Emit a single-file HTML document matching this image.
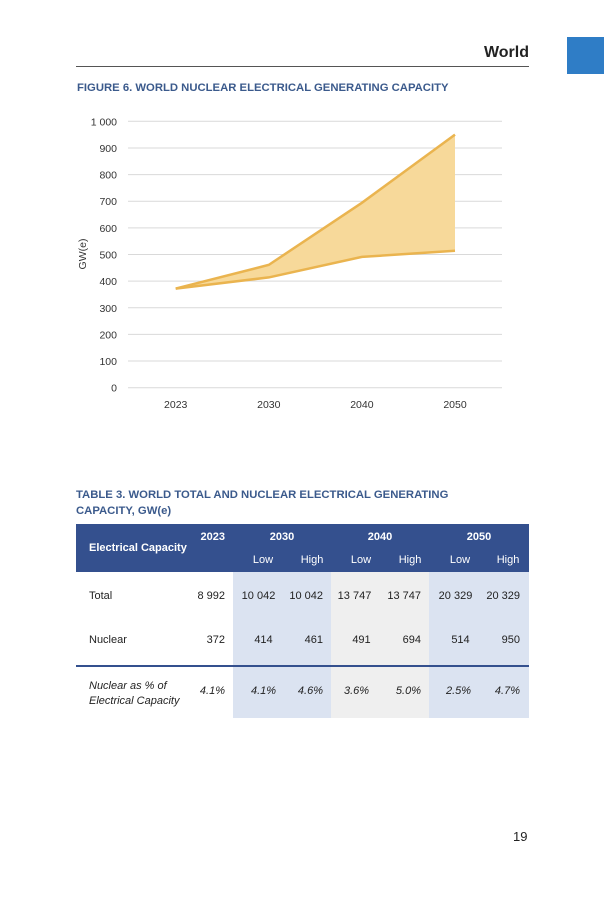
<!DOCTYPE html>
<html><head><meta charset="utf-8"><style>
body{margin:0;width:604px;height:906px;background:#fff;position:relative;font-family:"Liberation Sans",sans-serif;overflow:hidden}
.a{position:absolute}
.t{position:absolute;font-size:11px;color:#222}
.h{position:absolute;font-size:11px;color:#fff}
.r{text-align:right}
.c{text-align:center}
i{font-style:italic}
</style></head><body>
<div class="a" style="left:567px;top:37px;width:37px;height:37px;background:#2f7dc6"></div>
<div class="a" style="right:75px;top:44px;font-size:16px;font-weight:bold;color:#222">World</div>
<div class="a" style="left:76px;top:66px;width:453px;height:1px;background:#555"></div>
<div class="a" style="left:77px;top:82px;font-size:11.3px;font-weight:bold;color:#3b5a8c">FIGURE 6. WORLD NUCLEAR ELECTRICAL GENERATING CAPACITY</div>
<svg class="a" style="left:0;top:0" width="604" height="430">
<g id="grid"></g><g id="marks"></g><g id="labels"></g>
<text x="86" y="254" font-size="10.5" fill="#333" transform="rotate(-90 86 254)" text-anchor="middle">GW(e)</text>
</svg>
<script>
const years=["2023","2030","2040","2050"];
const low=[372,414,491,514];
const high=[372,461,694,950];
const yTicks=[0,100,200,300,400,500,600,700,800,900,1000];
const yTickLabels=["0","100","200","300","400","500","600","700","800","900","1 000"];
const NS="http://www.w3.org/2000/svg";
const xs=i=>175.7+i*93.1;
const ys=v=>387.7-v*0.2664;
const g=document.getElementById('grid'),m=document.getElementById('marks'),l=document.getElementById('labels');
function mk(tag,at,p){const e=document.createElementNS(NS,tag);for(const k in at)e.setAttribute(k,at[k]);p.appendChild(e);return e;}
yTicks.forEach((t,i)=>{
 const ln=mk('line',{x1:128,x2:502,y1:ys(t),y2:ys(t),stroke:'#d9d9d9','stroke-width':1},g);
 
 
 const tx=mk('text',{x:117,y:ys(t)+4,'font-size':10.5,fill:'#333','text-anchor':'end'},l);
 tx.textContent=yTickLabels[i];
 
 
});
years.forEach((y,i)=>{
 const tx=mk('text',{x:xs(i),y:408,'font-size':10.5,fill:'#333','text-anchor':'middle'},l);
 tx.textContent=y;
 
 
});
let d='M'+high.map((v,i)=>xs(i)+','+ys(v)).join(' L')+' L'+low.map((v,i)=>xs(i)+','+ys(v)).reverse().join(' L')+'Z';
const area=mk('path',{d:d,fill:'#f7d99a',stroke:'none'},m);


[[high,'high-line'],[low,'low-line']].forEach(([arr,n])=>{
 const p=mk('polyline',{points:arr.map((v,i)=>xs(i)+','+ys(v)).join(' '),fill:'none',stroke:'#eab44f','stroke-width':2.5},m);
 
 
});
</script>
<div class="a" style="left:76px;top:487px;font-size:11.3px;font-weight:bold;color:#3b5a8c;line-height:16px">TABLE 3. WORLD TOTAL AND NUCLEAR ELECTRICAL GENERATING<br>CAPACITY, GW(e)</div>
<div class="a" style="left:76px;top:524px;width:453px;height:194px">
<div class="a" style="left:0;top:0;width:453px;height:48px;background:#34508e"></div>
<div class="a" style="left:157px;top:48px;width:98px;height:146px;background:#dbe3f1"></div>
<div class="a" style="left:255px;top:48px;width:98px;height:146px;background:#efefef"></div>
<div class="a" style="left:353px;top:48px;width:100px;height:146px;background:#dbe3f1"></div>
<div class="a" style="left:0;top:141px;width:453px;height:2px;background:#34508e"></div>
</div>
<div class="h" style="left:89px;top:542px;font-weight:bold">Electrical Capacity</div>
<div class="h r" style="left:180px;width:45px;top:531px;font-weight:bold">2023</div>
<div class="h c" style="left:233px;width:98px;top:531px;font-weight:bold">2030</div>
<div class="h c" style="left:331px;width:98px;top:531px;font-weight:bold">2040</div>
<div class="h c" style="left:429px;width:100px;top:531px;font-weight:bold">2050</div>
<div class="h c" style="left:243px;width:40px;top:554px">Low</div>
<div class="h c" style="left:292px;width:40px;top:554px">High</div>
<div class="h c" style="left:341px;width:40px;top:554px">Low</div>
<div class="h c" style="left:390px;width:40px;top:554px">High</div>
<div class="h c" style="left:440px;width:40px;top:554px">Low</div>
<div class="h c" style="left:488px;width:40px;top:554px">High</div>
<div class="t" style="left:89px;top:590px">Total</div>
<div class="t r" style="left:170px;width:55px;top:590px">8 992</div>
<div class="t c" style="left:231px;width:55px;top:590px">10 042</div>
<div class="t r" style="left:268px;width:55px;top:590px">10 042</div>
<div class="t c" style="left:327px;width:55px;top:590px">13 747</div>
<div class="t r" style="left:366px;width:55px;top:590px">13 747</div>
<div class="t c" style="left:428px;width:55px;top:590px">20 329</div>
<div class="t r" style="left:465px;width:55px;top:590px">20 329</div>
<div class="t" style="left:89px;top:634px">Nuclear</div>
<div class="t r" style="left:170px;width:55px;top:634px">372</div>
<div class="t c" style="left:236px;width:55px;top:634px">414</div>
<div class="t r" style="left:268px;width:55px;top:634px">461</div>
<div class="t c" style="left:334px;width:55px;top:634px">491</div>
<div class="t r" style="left:366px;width:55px;top:634px">694</div>
<div class="t c" style="left:433px;width:55px;top:634px">514</div>
<div class="t r" style="left:465px;width:55px;top:634px">950</div>
<div class="t" style="left:89px;top:679px;line-height:15px"><i>Nuclear as % of<br>Electrical Capacity</i></div>
<div class="t r" style="left:170px;width:55px;top:685px"><i>4.1%</i></div>
<div class="t c" style="left:236px;width:55px;top:685px"><i>4.1%</i></div>
<div class="t r" style="left:268px;width:55px;top:685px"><i>4.6%</i></div>
<div class="t c" style="left:329px;width:55px;top:685px"><i>3.6%</i></div>
<div class="t r" style="left:366px;width:55px;top:685px"><i>5.0%</i></div>
<div class="t c" style="left:431px;width:55px;top:685px"><i>2.5%</i></div>
<div class="t r" style="left:465px;width:55px;top:685px"><i>4.7%</i></div>
<div class="a" style="left:513px;top:829px;font-size:13px;color:#222">19</div>
</body></html>
